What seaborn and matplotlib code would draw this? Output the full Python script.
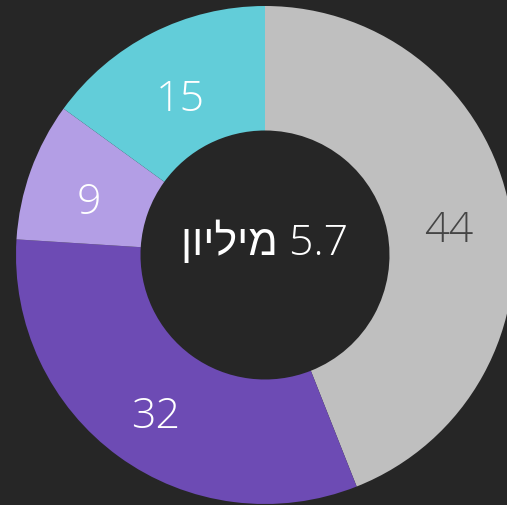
import matplotlib
matplotlib.use("Agg")
import matplotlib.pyplot as plt
import seaborn as sns
import numpy as np

values = [44, 32, 9, 15]
colors = ["#bfbfbf", "#6d4bb4", "#b39ee5", "#62cdd9"]
label_colors = ["#454545", "#ffffff", "#ffffff", "#ffffff"]
center_text = "ןוילימ 5.7"  # visual order for "5.7 מיליון"

BG = "#262626"
sns.set_theme(style="white", rc={"figure.facecolor": BG, "axes.facecolor": BG,
                                 "savefig.facecolor": BG})
plt.rcParams['font.family'] = ['Open Sans', 'Liberation Sans', 'DejaVu Sans']

W, H, DPI = 507, 506, 100
fig = plt.figure(figsize=(W / DPI, H / DPI), dpi=DPI)
ax = fig.add_axes([0, 0, 1, 1])
ax.set_facecolor(BG)

R_PX = 249.0
CX, CY = 265.0, 256.0  # center in pixels from top-left

palette = sns.color_palette(colors)
wedges, _ = ax.pie(values, colors=palette, startangle=90, counterclock=False,
                   radius=1.0, wedgeprops=dict(width=0.5, edgecolor="none"))

total = float(sum(values))
cum = 0.0
for v, w, lc in zip(values, wedges, label_colors):
    mid = np.deg2rad(90 - 360 * (cum + v / 2) / total)
    cum += v
    r = 0.75
    ax.text(r * np.cos(mid), r * np.sin(mid) - 0.02, str(v), ha="center",
            va="center_baseline", fontsize=31, color=lc, fontweight="light")

ax.text(0, 0.004, center_text, ha="center", va="baseline", fontsize=31,
        color="white", fontweight="light",
        family=['Open Sans', 'Liberation Sans', 'DejaVu Sans'])

ax.set_xlim(-CX / R_PX, (W - CX) / R_PX)
ax.set_ylim(-(H - CY) / R_PX, CY / R_PX)
ax.set_aspect("auto")
ax.axis("off")

fig.savefig("out.png", dpi=DPI, facecolor=BG)
